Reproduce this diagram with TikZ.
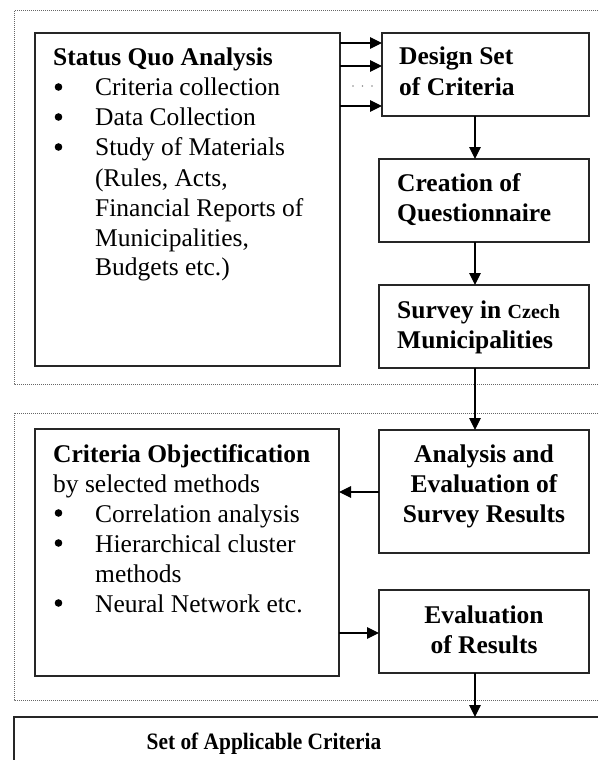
\documentclass[tikz,border=0pt]{standalone}
\usepackage{fontspec}
\setmainfont{Liberation Serif}
\newfontfamily\narrowserif[FakeStretch=0.91]{Liberation Serif}
\usetikzlibrary{arrows.meta}
\begin{document}
\begin{tikzpicture}[x=1pt,y=-1pt,
  box/.style={draw=black!85,line width=1.3pt,rectangle,inner sep=0pt,outer sep=0pt,anchor=north west},
  group/.style={draw=black!60,line width=1pt,dash pattern=on 1pt off 1pt},
  arr/.style={line width=1.2pt,-{Triangle[length=12pt,width=11.5pt]}},
  bullet/.style={fill=black},
  txt/.style={inner sep=0pt,text=black,font=\fontsize{25.5}{30}\selectfont},
  btxt/.style={txt,font=\fontsize{25.5}{30}\selectfont\bfseries}]
\useasboundingbox (0,0) rectangle (597,760);

% dotted grouping frames
\draw[group] (14,11) rectangle (640,384);
\draw[group] (14,413) rectangle (640,700);

% boxes
\node[box,minimum width=305pt,minimum height=333pt] (sq) at (35,33) {};
\node[box,minimum width=207pt,minimum height=83pt] (design) at (382,33) {};
\node[box,minimum width=210pt,minimum height=83pt] (creation) at (379,159) {};
\node[box,minimum width=210pt,minimum height=83pt] (survey) at (379,285) {};
\node[box,minimum width=304pt,minimum height=247pt] (obj) at (35,429) {};
\node[box,minimum width=210pt,minimum height=123pt] (analysis) at (379,430) {};
\node[box,minimum width=210pt,minimum height=83pt] (eval) at (379,590) {};
\node[box,minimum width=640pt,minimum height=80pt] (set) at (14,717) {};

% box texts
\node[txt,anchor=base west] (sqtext) at (53,66) {\begin{tabular}[t]{@{}p{42pt}@{}l@{}}
\multicolumn{2}{@{}l@{}}{\bfseries Status Quo Analysis}\\
 & Criteria collection\\
 & Data Collection\\
 & Study of Materials\\
 & (Rules, Acts,\\
 & Financial Reports of\\
 & Municipalities,\\
 & Budgets etc.)
\end{tabular}};

\node[btxt,anchor=base west] (designtext) at (399,65) {\begin{tabular}[t]{@{}l@{}}Design Set\\of Criteria\end{tabular}};
\node[btxt,anchor=base west] (creationtext) at (397,191) {\begin{tabular}[t]{@{}l@{}}Creation of\\Questionnaire\end{tabular}};
\node[btxt,anchor=base west] (surveytext) at (397,318) {\begin{tabular}[t]{@{}l@{}}Survey in {\fontsize{20}{30}\selectfont Czech}\\Municipalities\end{tabular}};

\node[txt,anchor=base west] (objtext) at (53,462) {\begin{tabular}[t]{@{}p{42pt}@{}l@{}}
\multicolumn{2}{@{}l@{}}{\bfseries Criteria Objectification}\\
\multicolumn{2}{@{}l@{}}{by selected methods}\\
 & Correlation analysis\\
 & Hierarchical cluster\\
 & methods\\
 & Neural Network etc.
\end{tabular}};

% list bullets
\foreach \by in {87,117,147,513,543,603}
  \fill[bullet] (58.5,\by) circle (3.8pt);

\node[btxt,anchor=base] (analysistext) at (484,462) {\begin{tabular}[t]{@{}c@{}}Analysis and\\Evaluation of\\Survey Results\end{tabular}};
\node[btxt,anchor=base] (evaltext) at (484,623) {\begin{tabular}[t]{@{}c@{}}Evaluation\\of Results\end{tabular}};
\node[btxt,anchor=base,font=\narrowserif\fontsize{23.5}{30}\selectfont\bfseries] (settext) at (264,749) {Set of Applicable Criteria};

% connectors
\coordinate (spine) at (475,0);
\draw[arr] ([yshift=-10pt]sq.north east) -- ([yshift=-10pt]design.north west);
\draw[arr] ([yshift=-33pt]sq.north east) -- ([yshift=-33pt]design.north west);
\draw[arr] ([yshift=-73pt]sq.north east) -- ([yshift=-73pt]design.north west);
\foreach \dx in {353,362.5,372} \fill[black!45] (\dx,86) circle (0.9pt);

\draw[arr] (design.south -| spine) -- (creation.north -| spine);
\draw[arr] (creation.south -| spine) -- (survey.north -| spine);
\draw[arr] (survey.south -| spine) -- (analysis.north -| spine);
\draw[arr] ([yshift=-62pt]analysis.north west) -- ([yshift=-62pt]analysis.north west -| obj.east);
\draw[arr] ([yshift=-43pt]eval.north west -| obj.east) -- ([yshift=-43pt]eval.north west);
\draw[arr] (eval.south -| spine) -- (set.north -| spine);
\end{tikzpicture}
\end{document}
